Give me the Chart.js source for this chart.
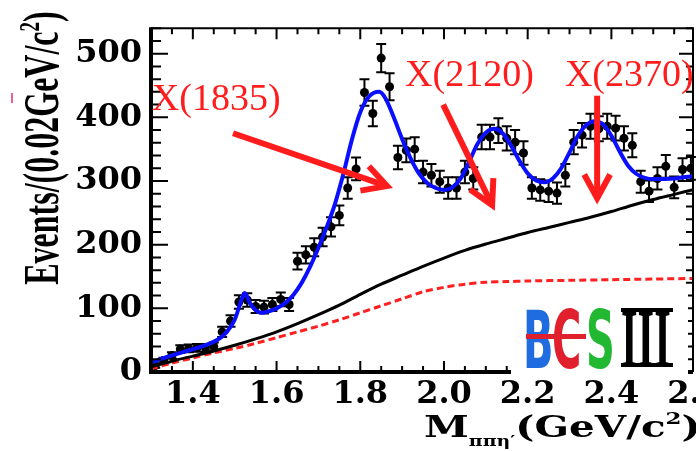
<!DOCTYPE html>
<html>
<head>
<meta charset="utf-8">
<title>M(pi pi eta') spectrum</title>
<script src="https://cdn.jsdelivr.net/npm/chart.js"></script>
<style>
  html, body { margin: 0; padding: 0; background: #fff; overflow: hidden; }
  #wrap { width: 696px; height: 451px; overflow: hidden; position: relative; }
  #wrap canvas { position: absolute; left: 0; top: 0; }
</style>
</head>
<body>
<div id="wrap"><canvas id="chart" width="730" height="451"></canvas></div>
<script>
// bin centres (0.02 GeV bins) and events per bin
const massBins = [
  1.31, 1.33, 1.35, 1.37, 1.39, 1.41, 1.43, 1.45, 1.47, 1.49,
  1.51, 1.53, 1.55, 1.57, 1.59, 1.61, 1.63, 1.65, 1.67, 1.69,
  1.71, 1.73, 1.75, 1.77, 1.79, 1.81, 1.83, 1.85, 1.87, 1.89,
  1.91, 1.93, 1.95, 1.97, 1.99, 2.01, 2.03, 2.05, 2.07, 2.09,
  2.11, 2.13, 2.15, 2.17, 2.19, 2.21, 2.23, 2.25, 2.27, 2.29,
  2.31, 2.33, 2.35, 2.37, 2.39, 2.41, 2.43, 2.45, 2.47, 2.49,
  2.51, 2.53, 2.55, 2.57, 2.59
];
const events = [
  10, 18, 26, 36, 37, 38, 38, 40, 63, 80,
  110, 113, 103, 102, 106, 114, 106, 174, 184, 196,
  212, 228, 246, 289, 319, 439, 406, 493, 448, 337,
  348, 350, 314, 309, 299, 289, 289, 314, 304, 369,
  369, 379, 367, 361, 344, 289, 286, 284, 281, 309,
  361, 372, 386, 382, 386, 383, 367, 356, 299, 284,
  304, 323, 290, 318, 320
];

// total fit (blue)
const fitMass = [1.30, 1.34, 1.38, 1.42, 1.46, 1.48, 1.50, 1.512, 1.524, 1.535, 1.55, 1.565, 1.58, 1.60,
  1.62, 1.64, 1.66, 1.68, 1.70, 1.72, 1.74, 1.76, 1.78, 1.80, 1.82, 1.845, 1.86, 1.88, 1.90,
  1.92, 1.94, 1.96, 1.98, 2.00, 2.02, 2.04, 2.06, 2.08, 2.10, 2.12, 2.14, 2.16, 2.18, 2.20,
  2.22, 2.24, 2.26, 2.28, 2.30, 2.32, 2.34, 2.36, 2.38, 2.40, 2.42, 2.44, 2.46, 2.48, 2.50,
  2.55, 2.60];
const fitEvents = [15, 24, 32, 40, 51, 62, 82, 105, 124, 110, 97, 93, 95, 100,
  108, 121, 140, 165, 195, 228, 265, 312, 365, 408, 432, 440, 430, 400, 366,
  336, 312, 297, 289, 286, 290, 304, 330, 358, 376, 382, 375, 356, 332, 312,
  301, 298, 304, 320, 345, 371, 388, 394, 389, 371, 346, 324, 311, 305, 303,
  304, 308];

// total background (black)
const bkgMass = [1.30, 1.35, 1.40, 1.45, 1.50, 1.55, 1.60, 1.65, 1.70, 1.75, 1.80, 1.85, 1.90,
  1.95, 2.00, 2.05, 2.10, 2.15, 2.20, 2.25, 2.30, 2.35, 2.40, 2.45, 2.50, 2.55, 2.60];
const bkgEvents = [8, 17, 25, 33, 42, 52, 63, 76, 90, 105, 122, 138, 152,
  166, 179, 191, 201, 210, 219, 227, 235, 243, 252, 262, 271, 279, 287];

// non-eta' background (red dashed)
const nonEtaMass = [1.30, 1.35, 1.40, 1.45, 1.50, 1.55, 1.60, 1.65, 1.70, 1.75, 1.80, 1.85, 1.90,
  1.95, 2.00, 2.05, 2.10, 2.15, 2.20, 2.30, 2.40, 2.50, 2.60];
const nonEtaEvents = [5, 14, 22, 30, 37, 45, 54, 63, 72, 82, 93, 104, 115,
  126, 133, 138, 141, 142, 143, 144, 145, 146, 147];

const xTicks = [1.4, 1.6, 1.8, 2.0, 2.2, 2.4, 2.6];
const yTicks = [0, 100, 200, 300, 400, 500];

// resonance labels and arrows, in data units
const resonances = [
  { name: 'X(1835)', label: [1.302, 411], from: [1.496, 375], to: [1.864, 292] },
  { name: 'X(2120)', label: [1.907, 450], from: [1.998, 420], to: [2.115, 262] },
  { name: 'X(2370)', label: [2.289, 450], from: [2.366, 434], to: [2.366, 273] }
];

function pts(xs, ys) { return xs.map((x, i) => ({ x: x, y: ys[i] })); }

const RED = '#ff1c1c';
const tickFont = { family: "'DejaVu Serif', serif", weight: 'bold', size: 32 };

const errorBars = {
  id: 'errorBars',
  beforeDatasetsDraw(chart) {
    const ctx = chart.ctx, xs = chart.scales.x, ys = chart.scales.y;
    ctx.save();
    ctx.strokeStyle = '#000';
    ctx.lineWidth = 2;
    massBins.forEach((m, i) => {
      const px = xs.getPixelForValue(m);
      const err = Math.sqrt(events[i]);
      const top = ys.getPixelForValue(events[i] + err);
      const bot = ys.getPixelForValue(Math.max(0, events[i] - err));
      ctx.beginPath();
      ctx.moveTo(px, top); ctx.lineTo(px, bot);
      ctx.moveTo(px - 5, top); ctx.lineTo(px + 5, top);
      ctx.moveTo(px - 5, bot); ctx.lineTo(px + 5, bot);
      ctx.stroke();
    });
    ctx.restore();
  }
};

const frame = {
  id: 'frame',
  afterDatasetsDraw(chart) {
    const ctx = chart.ctx, a = chart.chartArea;
    const xs = chart.scales.x, ys = chart.scales.y;
    ctx.save();
    ctx.strokeStyle = '#000';
    // ticks, inward like ROOT
    ctx.lineWidth = 2;
    ctx.beginPath();
    for (let k = 0; k <= 26; k++) {
      const v = 1.3 + k * 0.05;
      if (v > 2.6) break;
      const px = xs.getPixelForValue(v);
      if (px > a.right - 1) break;
      const major = Math.abs(v * 5 - Math.round(v * 5)) < 1e-6;
      const len = major ? 11 : 6;
      ctx.moveTo(px, a.bottom); ctx.lineTo(px, a.bottom - len);
      ctx.moveTo(px, a.top); ctx.lineTo(px, a.top + len);
    }
    for (let v = 0; v <= 540; v += 20) {
      const py = ys.getPixelForValue(v);
      const major = v % 100 === 0;
      ctx.moveTo(a.left, py); ctx.lineTo(a.left + (major ? 17 : 10), py);
      ctx.moveTo(a.right, py); ctx.lineTo(a.right - (major ? 14 : 7), py);
    }
    ctx.stroke();
    // box
    ctx.lineWidth = 2;
    ctx.beginPath();
    ctx.moveTo(a.left, a.top); ctx.lineTo(a.right, a.top); ctx.lineTo(a.right, a.bottom);
    ctx.stroke();
    ctx.lineWidth = 4;
    ctx.beginPath();
    ctx.moveTo(a.left, a.top - 1); ctx.lineTo(a.left, a.bottom); ctx.lineTo(a.right, a.bottom);
    ctx.stroke();

    // arrows + labels
    ctx.strokeStyle = RED;
    ctx.fillStyle = RED;
    ctx.lineWidth = 6;
    ctx.lineJoin = 'miter';
    resonances.forEach(r => {
      const x0 = xs.getPixelForValue(r.from[0]), y0 = ys.getPixelForValue(r.from[1]);
      const x1 = xs.getPixelForValue(r.to[0]), y1 = ys.getPixelForValue(r.to[1]);
      const ang = Math.atan2(y1 - y0, x1 - x0);
      const hl = 27, hw = 0.5;
      ctx.beginPath();
      ctx.moveTo(x0, y0); ctx.lineTo(x1 - 3 * Math.cos(ang), y1 - 3 * Math.sin(ang));
      ctx.stroke();
      ctx.beginPath();
      ctx.moveTo(x1 - hl * Math.cos(ang - hw), y1 - hl * Math.sin(ang - hw));
      ctx.lineTo(x1, y1);
      ctx.lineTo(x1 - hl * Math.cos(ang + hw), y1 - hl * Math.sin(ang + hw));
      ctx.stroke();
      ctx.font = "38px 'Liberation Serif', serif";
      ctx.textAlign = 'left';
      ctx.textBaseline = 'alphabetic';
      ctx.fillText(r.name, xs.getPixelForValue(r.label[0]), ys.getPixelForValue(r.label[1]));
    });
    ctx.restore();
  },
  afterDraw(chart) {
    const ctx = chart.ctx;
    ctx.save();
    // y title, stretched like the original
    ctx.fillStyle = '#000';
    ctx.translate(58, 148);
    ctx.rotate(-Math.PI / 2);
    ctx.scale(1, 1.6);
    ctx.font = "bold 32px 'Liberation Serif', serif";
    const p1 = 'Events/(0.02GeV/c', p2 = ')';
    ctx.font = "bold 32px 'Liberation Serif', serif";
    const w1 = ctx.measureText(p1).width;
    ctx.font = "bold 19px 'Liberation Serif', serif";
    const ws = ctx.measureText('2').width;
    ctx.font = "bold 32px 'Liberation Serif', serif";
    const w2 = ctx.measureText(p2).width;
    let x = -(w1 + ws + w2) / 2;
    ctx.textBaseline = 'alphabetic';
    ctx.fillText(p1, x, 0); x += w1;
    ctx.font = "bold 19px 'Liberation Serif', serif";
    ctx.fillText('2', x, -12); x += ws;
    ctx.font = "bold 32px 'Liberation Serif', serif";
    ctx.fillText(p2, x, 0);
    ctx.restore();

    // x title
    ctx.save();
    ctx.fillStyle = '#000';
    ctx.translate(424, 437);
    ctx.scale(1.35, 1);
    const big = "bold 30px 'DejaVu Serif', serif";
    const sub = "bold 14px 'DejaVu Serif', serif";
    let cx = 0;
    const put = (t, f, dy) => { ctx.font = f; ctx.fillText(t, cx, dy); cx += ctx.measureText(t).width; };
    put('M', big, 0);
    put('\u03c0\u03c0\u03b7\u2032', sub, 9);
    put('(GeV/c', big, 0);
    put('2', "bold 17px 'DejaVu Serif', serif", -13);
    put(')', big, 0);
    ctx.restore();

    // BESIII logo
    ctx.save();
    ctx.fillStyle = '#fff';
    ctx.fillRect(511, 289, 177, 88);
    ctx.textBaseline = 'alphabetic';
    ctx.save();
    ctx.translate(523, 368);
    ctx.scale(0.5, 1);
    ctx.font = "bold 80px 'DejaVu Sans', sans-serif";
    ctx.fillStyle = '#1f6be0';
    ctx.fillText('B', 0, 0);
    ctx.restore();
    ctx.save();
    ctx.translate(552, 368);
    ctx.scale(0.5, 1);
    ctx.font = "bold 80px 'DejaVu Sans', sans-serif";
    ctx.fillStyle = '#e0202c';
    ctx.fillText('C', 0, 0);
    ctx.restore();
    ctx.fillStyle = '#e0202c';
    ctx.fillRect(526, 334, 60, 5);
    ctx.save();
    ctx.translate(586, 368);
    ctx.scale(0.5, 1);
    ctx.font = "bold 80px 'DejaVu Sans', sans-serif";
    ctx.fillStyle = '#22b832';
    ctx.fillText('S', 0, 0);
    ctx.restore();
    ctx.save();
    ctx.translate(621, 366);
    ctx.scale(0.52, 1);
    ctx.font = "bold 82px 'Liberation Serif', serif";
    ctx.fillStyle = '#000';
    ctx.fillText('III', 0, 0);
    ctx.restore();
    ctx.fillStyle = '#000';
    ctx.fillRect(621, 308, 52, 4);
    ctx.fillRect(621, 363, 52, 4);
    ctx.restore();

    // small pink mark at the left edge
    ctx.fillStyle = '#f0608c';
    ctx.fillRect(11, 93, 2, 10);
  }
};

new Chart(document.getElementById('chart'), {
  type: 'line',
  data: {
    datasets: [
      { label: 'fit', data: pts(fitMass, fitEvents), borderColor: '#0a10ff', borderWidth: 4,
        pointRadius: 0, cubicInterpolationMode: 'monotone', fill: false },
      { label: 'background', data: pts(bkgMass, bkgEvents), borderColor: '#000', borderWidth: 3,
        pointRadius: 0, tension: 0.3, fill: false },
      { label: 'non-eta', data: pts(nonEtaMass, nonEtaEvents), borderColor: '#ff2020', borderWidth: 3,
        borderDash: [7, 4], pointRadius: 0, tension: 0.3, fill: false },
      { label: 'data', data: pts(massBins, events), showLine: false, pointRadius: 4.5,
        pointBackgroundColor: '#000', pointBorderColor: '#000', pointBorderWidth: 0 }
    ]
  },
  options: {
    responsive: false,
    animation: false,
    events: [],
    layout: { padding: { left: 0, right: 37, top: 12, bottom: 0 } },
    plugins: { legend: { display: false }, tooltip: { enabled: false } },
    scales: {
      x: {
        type: 'linear', min: 1.3, max: 2.595,
        grid: { display: false, drawTicks: false }, border: { display: false },
        afterBuildTicks: s => { s.ticks = xTicks.map(v => ({ value: v })); },
        afterFit: s => { s.height = 79; s.paddingLeft = 0; s.paddingRight = 0; },
        ticks: { font: tickFont, color: '#000', padding: 3, maxRotation: 0, autoSkip: false,
          callback: v => Number(v).toFixed(1) }
      },
      y: {
        type: 'linear', min: 0, max: 540,
        grid: { display: false, drawTicks: false }, border: { display: false },
        afterBuildTicks: s => { s.ticks = yTicks.map(v => ({ value: v })); },
        afterFit: s => { s.width = 151; },
        ticks: { font: tickFont, color: '#000', padding: 9 }
      }
    }
  },
  plugins: [errorBars, frame]
});
</script>
</body>
</html>
